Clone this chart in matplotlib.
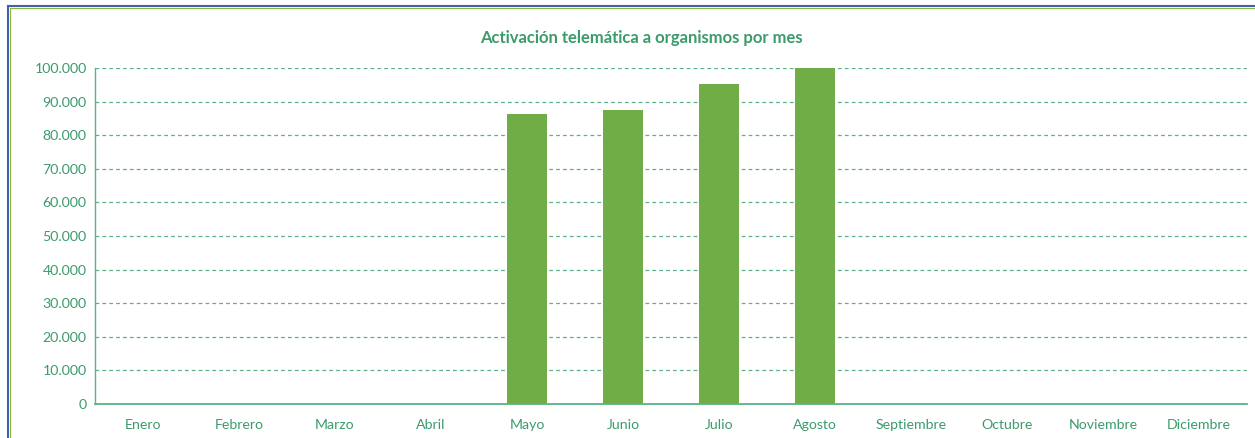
import matplotlib
matplotlib.use("Agg")
import matplotlib.pyplot as plt
from matplotlib.lines import Line2D
from matplotlib.ticker import FuncFormatter, MultipleLocator

months = ["Enero", "Febrero", "Marzo", "Abril", "Mayo", "Junio", "Julio",
          "Agosto", "Septiembre", "Octubre", "Noviembre", "Diciembre"]
values = [0, 0, 0, 0, 86300, 87500, 95200, 99900, 0, 0, 0, 0]
title = "Activación telemática a organismos por mes"

W, H = 1255, 438
plt.rcParams['font.family'] = ['Lato', 'DejaVu Sans']
fig = plt.figure(figsize=(W / 100, H / 100), dpi=100)
ax = fig.add_axes([95 / W, 1 - 404 / H, (1247 - 95) / W, (404 - 68) / H])

text_green = "#3C9B6C"
grid_green = "#5BB287"
bar_green = "#70AD47"

x = list(range(len(months)))
ax.bar(x, values, width=0.41, color=bar_green, zorder=3)
ax.set_xlim(-0.5, len(months) - 0.5)
ax.set_ylim(0, 100000)
ax.yaxis.set_major_locator(MultipleLocator(10000))
ax.yaxis.set_major_formatter(FuncFormatter(lambda v, p: f"{int(v):,}".replace(",", ".")))
ax.set_xticks(x)
ax.set_xticklabels(months)
ax.tick_params(axis='both', length=0, colors=text_green, labelsize=10.2)
ax.tick_params(axis='x', pad=11)
ax.tick_params(axis='y', pad=6)
ax.grid(axis='y', color=grid_green, linestyle=(0, (3, 2.5)), linewidth=0.9, zorder=0)
for s in ["top", "right"]:
    ax.spines[s].set_visible(False)
ax.spines["bottom"].set_color(grid_green)
ax.spines["bottom"].set_linewidth(1.3)
ax.spines["bottom"].set_zorder(5)
ax.spines["left"].set_color(grid_green)
ax.spines["left"].set_linewidth(1.0)

fig.text(641 / W, 1 - 38 / H, title, ha='center', va='center',
         color=text_green, fontsize=12, fontweight='bold')

# chart frame
fig.add_artist(Line2D([8 / W, 8 / W], [0, 1 - 6 / H], color="#3E63A8", linewidth=1.5,
                      transform=fig.transFigure))
fig.add_artist(Line2D([8 / W, 1], [1 - 6 / H, 1 - 6 / H], color="#3E63A8", linewidth=1.5,
                      transform=fig.transFigure))
fig.add_artist(Line2D([9.8 / W, 9.8 / W], [0, 1 - 7.8 / H], color="#8DB53C", linewidth=0.8,
                      transform=fig.transFigure))
fig.add_artist(Line2D([9.8 / W, 1], [1 - 7.8 / H, 1 - 7.8 / H], color="#8DB53C", linewidth=0.8,
                      transform=fig.transFigure))

fig.savefig("out.png", dpi=100)
